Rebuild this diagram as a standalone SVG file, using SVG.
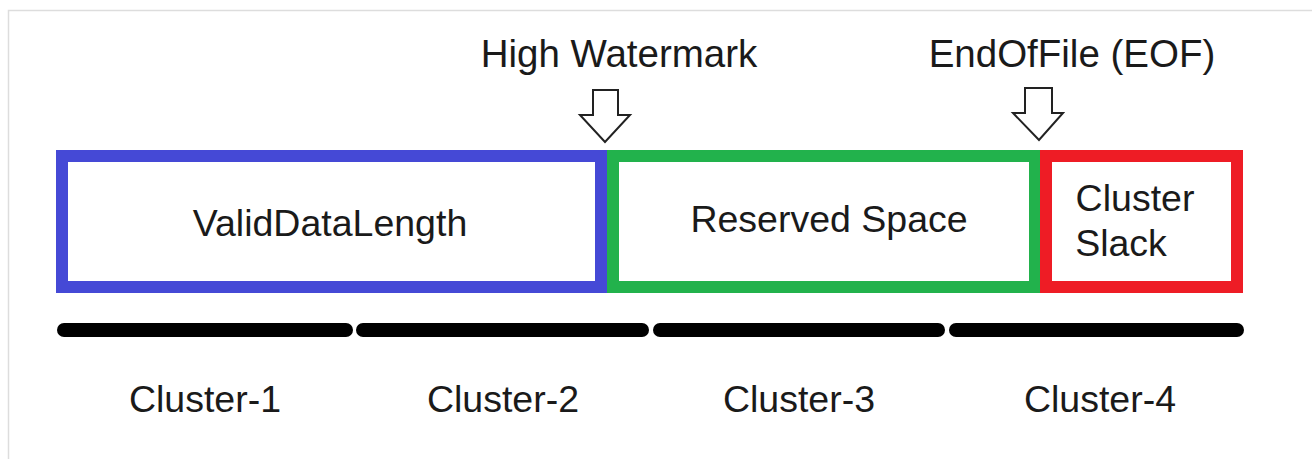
<svg xmlns="http://www.w3.org/2000/svg" width="1312" height="459" viewBox="0 0 1312 459">
  <style>
    text { font-family: "Liberation Sans", Arial, sans-serif; font-size: 37.5px; fill: #1a1a1a; text-anchor: middle; }
    .top { font-size: 38.5px; }
    .box { fill: #ffffff; stroke-width: 12; }
    .arrow { fill: #ffffff; stroke: #222222; stroke-width: 2; stroke-linejoin: miter; }
    .bar { stroke: #000000; stroke-width: 14; stroke-linecap: round; }
  </style>
  <rect x="0" y="0" width="1312" height="459" fill="#ffffff"/>
  <path d="M8.5 459 V10.5 H1312" fill="none" stroke="#dddddd" stroke-width="1.5"/>

  <g id="valid-data-length">
    <rect class="box" x="62" y="156" width="539" height="131" stroke="#4549d6"/>
    <text x="330" y="236">ValidDataLength</text>
  </g>
  <g id="reserved-space">
    <rect class="box" x="613" y="156" width="422" height="131" stroke="#22b24c"/>
    <text x="829" y="232">Reserved Space</text>
  </g>
  <g id="cluster-slack">
    <rect class="box" x="1046" y="156" width="191" height="131" stroke="#ee1c25"/>
    <text x="1135" y="211">Cluster</text>
    <text x="1121" y="256">Slack</text>
  </g>

  <g id="high-watermark">
    <text class="top" x="619" y="67">High Watermark</text>
    <path class="arrow" d="M593 90 H618 V115 H630 L605 142 L580 115 H593 Z"/>
  </g>
  <g id="eof">
    <text class="top" x="1072" y="67">EndOfFile (EOF)</text>
    <path class="arrow" d="M1025 88 H1052 V113 H1063 L1039 140 L1013 113 H1025 Z"/>
  </g>

  <g id="connectors">
    <line class="bar" x1="64" y1="330" x2="346" y2="330"/>
    <line class="bar" x1="363" y1="330" x2="642" y2="330"/>
    <line class="bar" x1="660" y1="330" x2="938" y2="330"/>
    <line class="bar" x1="956" y1="330" x2="1237" y2="330"/>
  </g>

  <g id="cluster-1"><text x="205" y="412">Cluster-1</text></g>
  <g id="cluster-2"><text x="503" y="412">Cluster-2</text></g>
  <g id="cluster-3"><text x="799" y="412">Cluster-3</text></g>
  <g id="cluster-4"><text x="1100" y="412">Cluster-4</text></g>
</svg>
